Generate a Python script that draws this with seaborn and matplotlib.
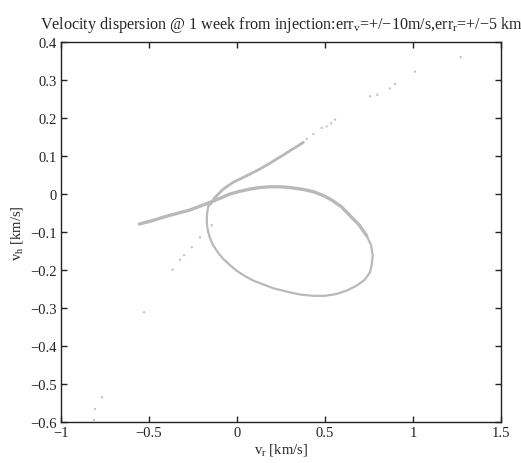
import numpy as np
import pandas as pd
import matplotlib
matplotlib.use("Agg")
import matplotlib.pyplot as plt
import seaborn as sns

# Dispersion curve in the (v_r, v_h) plane, traced in order [km/s]
# segment 1: left tail, crossing and upper arc of the loop
vr_arc = [-0.555, -0.480, -0.419, -0.340, -0.267, -0.210, -0.153, -0.095, -0.040,
          0.015, 0.074, 0.130, 0.188, 0.244, 0.301, 0.377, 0.434, 0.485, 0.528,
          0.592, 0.642, 0.695, 0.737]
vh_arc = [-0.079, -0.070, -0.061, -0.051, -0.042, -0.032, -0.022, -0.011, 0.000,
          0.007, 0.013, 0.017, 0.019, 0.019, 0.017, 0.012, 0.006, -0.003, -0.013,
          -0.033, -0.057, -0.082, -0.110]
# segment 2: right side, bottom and left side of the loop
vr_loop = [0.737, 0.762, 0.771, 0.766, 0.756, 0.725, 0.680, 0.625, 0.566, 0.500,
           0.434, 0.365, 0.301, 0.206, 0.093, 0.045, -0.002, -0.040, -0.078,
           -0.108, -0.134, -0.152, -0.163, -0.170, -0.172, -0.169, -0.163, -0.150]
vh_loop = [-0.110, -0.135, -0.162, -0.185, -0.206, -0.226, -0.241, -0.254, -0.263,
           -0.268, -0.268, -0.265, -0.259, -0.248, -0.228, -0.216, -0.202, -0.187,
           -0.171, -0.154, -0.136, -0.118, -0.101, -0.084, -0.066, -0.048, -0.031,
           -0.026]
# segment 3: upper branch leaving the loop
vr_branch = [-0.150, -0.125, -0.078, -0.021, 0.055, 0.131, 0.180, 0.225, 0.265,
             0.301, 0.340, 0.377]
vh_branch = [-0.026, -0.009, 0.013, 0.031, 0.048, 0.066, 0.079, 0.092, 0.103,
             0.114, 0.125, 0.136]

# Sparse particles along the outer tails
vr_sparse = [0.396, 0.434, 0.481, 0.509, 0.535, 0.557, 0.756, 0.797, 0.869, 0.898,
             1.011, 1.271, -0.144, -0.210, -0.257, -0.301, -0.324, -0.366,
             -0.528, -0.767, -0.807, -0.813]
vh_sparse = [0.145, 0.158, 0.174, 0.178, 0.186, 0.196, 0.257, 0.261, 0.278, 0.289,
             0.322, 0.360, -0.082, -0.114, -0.140, -0.161, -0.173, -0.199,
             -0.311, -0.535, -0.566, -0.595]

x_ticks = [-1, -0.5, 0, 0.5, 1, 1.5]
y_ticks = [-0.6, -0.5, -0.4, -0.3, -0.2, -0.1, 0, 0.1, 0.2, 0.3, 0.4]

title_text = (r"Velocity dispersion @ 1 week from injection:err$_{\mathrm{v}}$"
              r"=+/$-$10m/s,err$_{\mathrm{r}}$=+/$-$5 km")
x_label = r"v$_{\mathrm{r}}$ [km/s]"
y_label = r"v$_{\mathrm{h}}$ [km/s]"

sns.set_style("white")
plt.rcParams["font.family"] = ["Liberation Serif", "DejaVu Serif"]
plt.rcParams["mathtext.fontset"] = "custom"
plt.rcParams["mathtext.rm"] = "Liberation Serif"
plt.rcParams["mathtext.it"] = "Liberation Serif:italic"
plt.rcParams["axes.unicode_minus"] = True

fig = plt.figure(figsize=(5.21, 4.64), dpi=100)
ax = fig.add_axes([61 / 521, 1 - 423 / 464, 440 / 521, 380 / 464])

curve_color = "#b9b9b9"
segments = [
    (vr_arc, vh_arc, 2.4),
    (vr_loop, vh_loop, 1.6),
    (vr_branch, vh_branch, 2.0),
]
for xs, ys, lw in segments:
    df = pd.DataFrame({"vr": xs, "vh": ys})
    sns.lineplot(data=df, x="vr", y="vh", sort=False, estimator=None, ax=ax,
                 color=curve_color, linewidth=lw, solid_capstyle="round",
                 solid_joinstyle="round")

df_sparse = pd.DataFrame({"vr": vr_sparse, "vh": vh_sparse})
sns.scatterplot(data=df_sparse, x="vr", y="vh", ax=ax, s=3, color="#c4c4c4",
                edgecolor="none", linewidth=0)

ax.set_xlim(x_ticks[0], x_ticks[-1])
ax.set_ylim(y_ticks[0], y_ticks[-1])
ax.set_xticks(x_ticks)
ax.set_yticks(y_ticks)
ax.set_xticklabels([f"{v:g}".replace("-", "\u2212") for v in x_ticks])
ax.set_yticklabels([f"{v:g}".replace("-", "\u2212") for v in y_ticks])
ax.tick_params(direction="in", length=4, width=1, bottom=True, left=True,
               top=True, right=True, labelsize=10.5, colors="#222222", pad=3)
for sp in ax.spines.values():
    sp.set_visible(True)
    sp.set_color("#222222")
    sp.set_linewidth(1.0)

ax.set_xlabel(x_label, fontsize=10.5, labelpad=1)
ax.set_ylabel(y_label, fontsize=10.5, labelpad=4)
ax.set_title(title_text, fontsize=11.6, pad=10)

fig.savefig("out.png", dpi=100)
